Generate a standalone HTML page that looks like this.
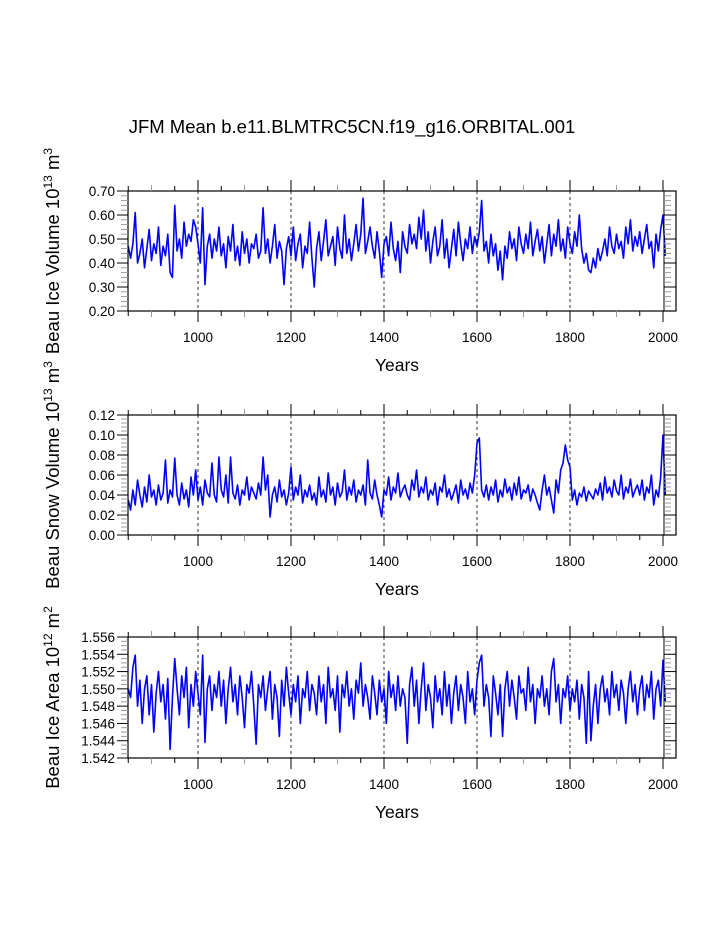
<!DOCTYPE html>
<html><head><meta charset="utf-8"><style>
html,body{margin:0;padding:0;background:#fff;}
svg{display:block;font-family:"Liberation Sans",Arial,sans-serif;}
</style></head><body>
<svg id="chart" width="723" height="935" viewBox="0 0 723 935">
<text x="352" y="133" font-size="18.5" text-anchor="middle">JFM Mean b.e11.BLMTRC5CN.f19_g16.ORBITAL.001</text>
</svg>
<script>
const startYear = 850, yearStep = 5;
const xTickLabels = ["1000","1200","1400","1600","1800","2000"];
const iceVolume = [
0.47,0.42,0.48,0.61,0.40,0.44,0.50,0.38,0.46,0.54,0.41,0.48,0.44,0.55,0.39,0.47,0.43,0.52,0.36,0.34,
0.64,0.45,0.50,0.42,0.57,0.47,0.52,0.49,0.58,0.55,0.48,0.40,0.63,0.31,0.47,0.52,0.42,0.50,0.45,0.55,
0.43,0.48,0.38,0.51,0.45,0.56,0.41,0.47,0.39,0.53,0.44,0.50,0.40,0.48,0.46,0.52,0.42,0.45,0.63,0.44,
0.50,0.40,0.47,0.56,0.42,0.49,0.45,0.31,0.46,0.51,0.43,0.55,0.41,0.48,0.52,0.38,0.47,0.44,0.57,0.42,
0.30,0.46,0.53,0.41,0.49,0.58,0.43,0.47,0.51,0.39,0.55,0.46,0.42,0.60,0.44,0.50,0.41,0.48,0.56,0.45,
0.52,0.67,0.44,0.49,0.55,0.47,0.42,0.53,0.45,0.34,0.48,0.51,0.43,0.57,0.46,0.41,0.49,0.36,0.53,0.47,
0.44,0.56,0.48,0.52,0.46,0.59,0.50,0.62,0.45,0.53,0.40,0.49,0.55,0.43,0.47,0.58,0.42,0.50,0.38,0.46,
0.54,0.43,0.57,0.48,0.41,0.50,0.46,0.55,0.44,0.51,0.47,0.53,0.66,0.45,0.49,0.40,0.52,0.43,0.48,0.37,
0.45,0.33,0.47,0.42,0.53,0.46,0.50,0.41,0.55,0.48,0.44,0.52,0.46,0.57,0.43,0.49,0.54,0.45,0.51,0.40,
0.48,0.56,0.43,0.52,0.47,0.58,0.45,0.50,0.42,0.55,0.48,0.44,0.53,0.47,0.60,0.46,0.40,0.44,0.37,0.36,
0.42,0.38,0.46,0.41,0.45,0.50,0.43,0.55,0.47,0.44,0.52,0.46,0.49,0.42,0.55,0.48,0.58,0.45,0.51,0.47,
0.53,0.44,0.50,0.56,0.46,0.49,0.38,0.52,0.45,0.54,0.60,0.43];
const snowVolume = [
.035,.025,.045,.030,.055,.040,.028,.048,.033,.060,.038,.045,.030,.050,.035,.042,.075,.032,.045,.038,
.077,.040,.030,.052,.036,.045,.028,.058,.040,.065,.035,.048,.030,.055,.042,.038,.072,.040,.033,.078,
.045,.038,.060,.032,.078,.042,.036,.050,.030,.045,.040,.058,.035,.048,.042,.036,.052,.040,.078,.045,
.060,.018,.040,.048,.033,.055,.038,.045,.030,.042,.068,.035,.048,.040,.060,.032,.045,.038,.050,.035,
.042,.030,.058,.038,.045,.033,.062,.040,.048,.030,.052,.038,.043,.065,.035,.048,.040,.055,.033,.045,
.040,.050,.030,.075,.042,.036,.055,.040,.030,.018,.045,.040,.058,.035,.048,.042,.062,.038,.045,.050,
.040,.035,.055,.045,.065,.038,.048,.042,.058,.035,.045,.040,.052,.030,.048,.043,.060,.038,.046,.035,
.042,.050,.032,.055,.040,.046,.036,.052,.042,.060,.092,.097,.045,.038,.050,.035,.048,.040,.055,.033,
.045,.038,.056,.042,.048,.035,.052,.040,.058,.036,.045,.042,.050,.034,.046,.040,.032,.025,.045,.060,
.040,.048,.035,.022,.055,.042,.065,.072,.090,.075,.068,.035,.045,.030,.042,.038,.048,.034,.044,.040,
.036,.046,.040,.052,.035,.058,.042,.048,.038,.055,.044,.040,.060,.036,.048,.042,.056,.038,.045,.050,
.040,.055,.035,.048,.042,.060,.030,.045,.038,.058,.100,.040];
const iceArea = [
1.5500,1.5490,1.5525,1.5539,1.5480,1.5510,1.5460,1.5500,1.5515,1.5470,1.5505,1.5450,1.5495,1.5520,1.5485,1.5505,1.5465,1.5512,1.5430,1.5490,
1.5535,1.5500,1.5470,1.5515,1.5490,1.5525,1.5455,1.5505,1.5480,1.5520,1.5495,1.5470,1.5539,1.5438,1.5500,1.5515,1.5475,1.5505,1.5490,1.5520,
1.5480,1.5510,1.5460,1.5500,1.5525,1.5485,1.5505,1.5470,1.5515,1.5490,1.5455,1.5505,1.5495,1.5520,1.5480,1.5436,1.5505,1.5490,1.5515,1.5475,
1.5500,1.5520,1.5465,1.5505,1.5490,1.5445,1.5510,1.5480,1.5525,1.5495,1.5470,1.5505,1.5485,1.5515,1.5460,1.5500,1.5490,1.5520,1.5475,1.5505,
1.5495,1.5470,1.5515,1.5485,1.5505,1.5460,1.5525,1.5490,1.5500,1.5475,1.5515,1.5450,1.5505,1.5490,1.5520,1.5480,1.5500,1.5465,1.5510,1.5495,
1.5530,1.5480,1.5505,1.5490,1.5465,1.5515,1.5495,1.5470,1.5510,1.5485,1.5500,1.5460,1.5520,1.5490,1.5505,1.5475,1.5515,1.5480,1.5500,1.5490,
1.5437,1.5505,1.5525,1.5480,1.5510,1.5460,1.5500,1.5530,1.5475,1.5505,1.5490,1.5455,1.5515,1.5485,1.5500,1.5470,1.5520,1.5480,1.5505,1.5460,
1.5495,1.5515,1.5475,1.5505,1.5490,1.5460,1.5520,1.5485,1.5500,1.5470,1.5510,1.5530,1.5539,1.5480,1.5505,1.5490,1.5445,1.5515,1.5495,1.5470,
1.5505,1.5445,1.5500,1.5520,1.5480,1.5510,1.5490,1.5465,1.5515,1.5495,1.5500,1.5475,1.5525,1.5485,1.5505,1.5460,1.5500,1.5490,1.5515,1.5480,
1.5500,1.5470,1.5520,1.5535,1.5485,1.5505,1.5460,1.5500,1.5490,1.5515,1.5475,1.5500,1.5485,1.5510,1.5465,1.5505,1.5490,1.5437,1.5520,1.5440,
1.5480,1.5505,1.5460,1.5500,1.5515,1.5485,1.5500,1.5470,1.5520,1.5490,1.5505,1.5475,1.5510,1.5495,1.5460,1.5500,1.5520,1.5485,1.5505,1.5470,
1.5500,1.5515,1.5475,1.5505,1.5490,1.5520,1.5465,1.5500,1.5510,1.5480,1.5533,1.5485];
const iceVolTicks = ["0.20","0.30","0.40","0.50","0.60","0.70"];
const snowVolTicks = ["0.00","0.02","0.04","0.06","0.08","0.10","0.12"];
const iceAreaTicks = ["1.542","1.544","1.546","1.548","1.550","1.552","1.554","1.556"];

const NS = "http://www.w3.org/2000/svg";
const svg = document.getElementById('chart');
function mk(tag, attrs, parent){ const e=document.createElementNS(NS,tag); for(const k in attrs) e.setAttribute(k,attrs[k]); (parent||svg).appendChild(e); return e; }
const L=128, R=676, RA=664;
function xs(yr){ return 198 + (yr-1000)*0.465; }

function panel(name, top, h, ymin, ymax, ticks, minorN, data, ylabel){
  const g = mk('g',{});
  
  
  const ys = v => top + (ymax - v)/(ymax - ymin)*h;
  const bot = top+h;
  for(let yr=1000; yr<=1800; yr+=200){
    const gl = mk('line',{x1:xs(yr),x2:xs(yr),y1:top,y2:bot,stroke:'#000','stroke-width':0.8,'stroke-dasharray':'3,3'},g);
    
    
  }
  let d='';
  data.forEach((v,i)=>{ d += (i?'L':'M')+xs(startYear+i*yearStep).toFixed(2)+','+ys(v).toFixed(2); });
  const p = mk('path',{d:d,fill:'none',stroke:'#0000ff','stroke-width':1.6,'stroke-linejoin':'round'},g);
  
  
  const fr = mk('rect',{x:L,y:top,width:R-L,height:h,fill:'none',stroke:'#000','stroke-width':1.2},g);
  
  
  mk('line',{x1:RA,x2:RA,y1:top,y2:bot,stroke:'#000','stroke-width':1},g);
  for(let yr=850; yr<=2000; yr+=50){
    const major = yr%200===0, mid = yr%100===0;
    const len = major?11:(mid?6:5);
    const col = (mid&&!major)?'#999':'#000';
    mk('line',{x1:xs(yr),x2:xs(yr),y1:top,y2:top-len,stroke:col,'stroke-width':1},g);
    mk('line',{x1:xs(yr),x2:xs(yr),y1:bot,y2:bot+len,stroke:col,'stroke-width':1},g);
  }
  xTickLabels.forEach(lbl=>{
    const t = mk('text',{x:xs(+lbl),y:bot+31,'font-size':13.5,'text-anchor':'middle'},g);
    t.textContent = lbl;
    
    
  });
  const xt = mk('text',{x:397,y:bot+60,'font-size':17.5,'text-anchor':'middle'},g);
  xt.textContent='Years';
  
  
  const n = ticks.length-1;
  for(let i=0;i<=n;i++){
    const v = ymin + (ymax-ymin)*i/n, y = ys(v);
    mk('line',{x1:L-11,x2:L,y1:y,y2:y,stroke:'#000','stroke-width':1},g);
    mk('line',{x1:RA,x2:R,y1:y,y2:y,stroke:'#000','stroke-width':1},g);
    const t = mk('text',{x:L-13,y:y+5,'font-size':13.5,'text-anchor':'end'},g);
    t.textContent = ticks[i];
    
    
    if(i<n){ for(let j=1;j<minorN;j++){ const ym = ys(v + (ymax-ymin)/n*j/minorN);
      mk('line',{x1:L-7,x2:L,y1:ym,y2:ym,stroke:'#999','stroke-width':1},g);
      mk('line',{x1:RA,x2:RA+7,y1:ym,y2:ym,stroke:'#999','stroke-width':1},g);} }
  }
  const yt = mk('text',{transform:'translate(59,'+(top+h/2)+') rotate(-90)','font-size':18.5,'text-anchor':'middle'},g);
  yt.innerHTML = ylabel;
  
  
}
panel('ice-volume',191,120,0.20,0.70,iceVolTicks,5,iceVolume,'Beau Ice Volume 10<tspan dy="-7" font-size="12">13</tspan><tspan dy="7"> m</tspan><tspan dy="-7" font-size="12">3</tspan>');
panel('snow-volume',415,120,0.00,0.12,snowVolTicks,5,snowVolume,'Beau Snow Volume 10<tspan dy="-7" font-size="12">13</tspan><tspan dy="7"> m</tspan><tspan dy="-7" font-size="12">3</tspan>');
panel('ice-area',637,121,1.542,1.556,iceAreaTicks,4,iceArea,'Beau Ice Area 10<tspan dy="-7" font-size="12">12</tspan><tspan dy="7"> m</tspan><tspan dy="-7" font-size="12">2</tspan>');
</script>
</body></html>
